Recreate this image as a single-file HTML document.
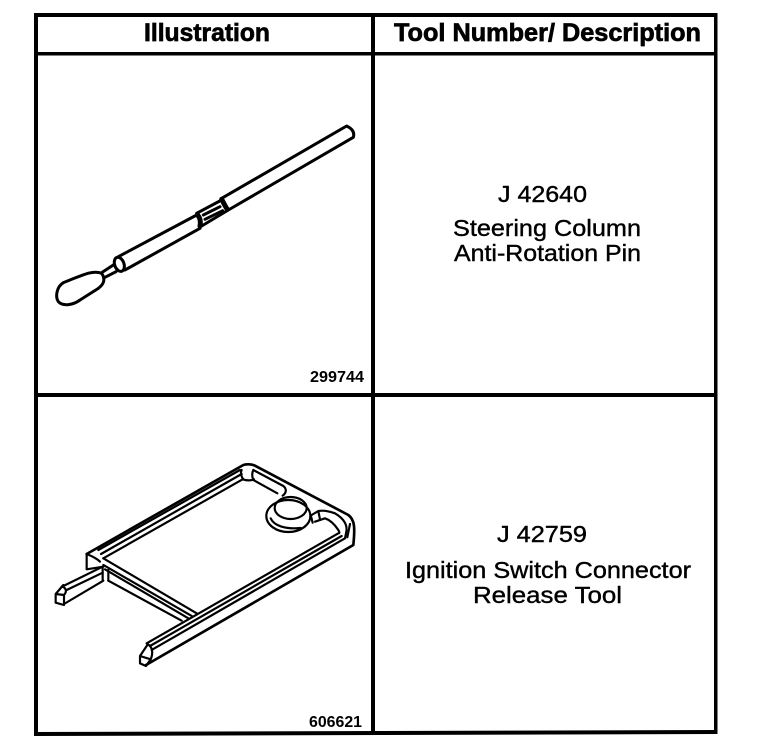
<!DOCTYPE html>
<html>
<head>
<meta charset="utf-8">
<style>
html,body{margin:0;padding:0;background:#fff}
svg{display:block}
text{font-family:"Liberation Sans",sans-serif;fill:#000}
.h{font-weight:bold;font-size:25px;stroke:#000;stroke-width:.7px}
.b{font-size:23px;stroke:#000;stroke-width:.4px}
.n{font-weight:bold;font-size:16px}
.l{fill:none;stroke:#000;stroke-linecap:round;stroke-linejoin:round}
</style>
</head>
<body>
<svg width="768" height="754" viewBox="0 0 768 754" xmlns="http://www.w3.org/2000/svg">
<rect width="768" height="754" fill="#fff"/>
<!-- table -->
<rect x="34" y="13" width="683" height="4"/>
<rect x="34" y="13" width="4" height="723"/>
<rect x="714" y="13" width="3.5" height="721"/>
<rect x="371" y="13" width="4" height="720"/>
<rect x="34" y="52" width="683" height="3.5"/>
<rect x="34" y="393" width="683" height="4"/>
<polygon points="34,732 717,730 717,734 34,736"/>

<!-- header -->
<text class="h" x="144" y="41" textLength="126" lengthAdjust="spacingAndGlyphs">Illustration</text>
<text class="h" x="394" y="41" textLength="307" lengthAdjust="spacingAndGlyphs">Tool Number/ Description</text>

<!-- descriptions -->
<text class="b" x="498" y="202" textLength="89" lengthAdjust="spacingAndGlyphs">J 42640</text>
<text class="b" x="453" y="236" textLength="188" lengthAdjust="spacingAndGlyphs">Steering Column</text>
<text class="b" x="454" y="261" textLength="187" lengthAdjust="spacingAndGlyphs">Anti-Rotation Pin</text>
<text class="b" x="497" y="542" textLength="90" lengthAdjust="spacingAndGlyphs">J 42759</text>
<text class="b" x="405" y="578" textLength="286" lengthAdjust="spacingAndGlyphs">Ignition Switch Connector</text>
<text class="b" x="473" y="603" textLength="149" lengthAdjust="spacingAndGlyphs">Release Tool</text>
<text class="n" x="310" y="382" textLength="54" lengthAdjust="spacingAndGlyphs">299744</text>
<text class="n" x="309" y="727" textLength="53" lengthAdjust="spacingAndGlyphs">606621</text>

<!-- pin -->
<g transform="translate(30,100) scale(.33333)">
<g class="l" stroke-width="9">
<path d="M215 520C190 510 165 522 100 548C80 560 75 590 85 605C100 620 130 615 150 600L205 565C225 550 225 535 215 520Z"/>
<path d="M215 518L250 495M225 532L258 515"/>
<ellipse cx="268" cy="493" rx="14" ry="22" transform="rotate(-20 268 493)"/>
<path d="M265 470L500 345M285 510L510 385"/>
<path d="M575 295L950 78C965 85 975 95 970 112L595 330"/>
<path d="M500 340L575 300M515 378L590 333"/>
<path d="M520 345L570 320M525 358L578 332"/>
</g>
<g class="l" stroke-width="15">
<path d="M503 345C512 355 512 368 510 378"/>
<path d="M575 298C582 310 586 320 592 328"/>
</g>
</g>

<!-- frame -->
<g transform="translate(40,450) scale(.33333)">
<g class="l" stroke-width="6.5">
<!-- outer body -->
<path d="M140 312L610 45C620 42 635 42 645 47L925 195C945 210 945 235 940 285L318 645" stroke-width="8"/>
<!-- top rail -->
<path d="M175 300L600 60M190 325L608 88C620 92 632 92 642 88M183 312L605 72"/>
<path d="M605 60C600 70 605 82 610 88M640 60C635 70 636 80 640 90"/>
<path d="M640 60L730 108C742 118 738 130 728 137M640 90L712 130"/>
<!-- ring -->
<ellipse cx="745" cy="198" rx="66" ry="48"/>
<ellipse cx="752" cy="174" rx="48" ry="33"/>
<path d="M692 205C702 228 737 238 782 234"/>
<!-- right rail -->
<path d="M815 195L835 183C855 180 870 185 885 190C910 205 925 225 918 250L915 265"/>
<path d="M825 215L855 205C870 210 885 225 895 240C900 248 898 250 895 250L320 580"/>
<path d="M812 195L818 218M835 184L840 208"/>
<path d="M905 258L330 588M915 265L335 600"/>
<path d="M930 222L922 262"/>
<!-- left corner and crossbar -->
<path d="M140 312L140 358L190 350M140 312C155 318 170 325 180 335"/>
<path d="M190 325L470 490M190 345L455 498M205 392L425 512M195 358L445 505"/>
<path d="M188 355L188 392M205 360L205 392"/>
<!-- left leg -->
<path d="M188 350L70 408M188 368L80 420M190 392L72 462"/>
<path d="M47 432L47 458L72 465L72 435L47 432L70 405"/>
<path d="M65 410C78 412 82 425 72 435"/>
<!-- right leg -->
<path d="M300 618L300 640L318 648L332 628L300 618L322 585"/>
<path d="M322 582C338 590 340 610 332 628"/>
</g>
</g>
</svg>
</body>
</html>
